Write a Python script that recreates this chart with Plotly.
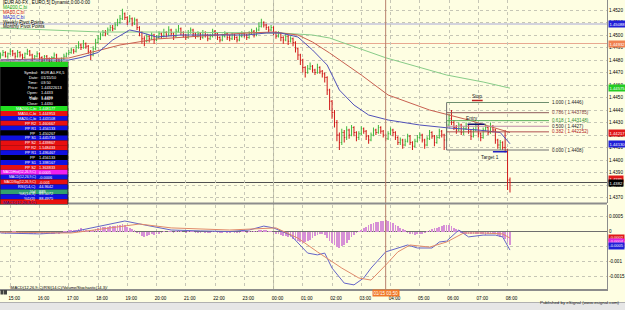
import plotly.graph_objects as go
import pandas as pd

# ---------------- data (prices in pips above 1.4400) ----------------
bar_start = "2010-01-14 14:40"
open_p = [83,84,86,83,85,87,85,83,86,84, 82,85,87,84,81,83,85,82,80,83,
          81,79,82,84,80,78,81,83,85,86, 88,87,90,92,90,93,91,87,84,89,
          94,97,100,102,101,104,106,105,108,110, 113,117,114,111,113,109,112,106,102,97,
          95,99,97,100,96,98,101,99,102,100, 104,101,99,103,105,102,100,98,102,104,
          101,99,101,98,102,100,97,99,103,101, 98,96,99,101,98,97,100,98,96,99,
          101,100,98,101,103,100,104,107,110,108, 106,104,106,102,99,101,98,96,99,95,
          97,94,89,84,80,74,70,73,75,72, 70,74,71,69,66,56,47,38,30,20,
          14,22,18,24,20,26,22,18,21,25, 23,19,16,20,24,22,26,23,20,17,
          21,24,22,18,14,16,12,15,19,14, 11,15,18,20,16,12,17,22,19,14,
          18,23,20,16,28,33,30,26,24,28, 22,25,27,23,19,24,27,21,18,24,
          26,22,27,24,16,12,14,10,8,-16]
close_p = [84,86,83,85,87,85,83,86,84,82, 85,87,84,81,83,85,82,80,83,81,
           79,82,84,80,78,81,83,85,86,88, 87,90,92,90,93,91,87,84,89,94,
           97,100,102,101,104,106,105,108,110,113, 117,114,111,113,109,112,106,102,97,95,
           99,97,100,96,98,101,99,102,100,104, 101,99,103,105,102,100,98,102,104,101,
           99,101,98,102,100,97,99,103,101,98, 96,99,101,98,97,100,98,96,99,101,
           100,98,101,103,100,104,107,110,108,106, 104,106,102,99,101,98,96,99,95,97,
           94,89,84,80,74,70,73,75,72,70, 74,71,69,66,56,47,38,30,20,14,
           22,18,24,20,26,22,18,21,25,23, 19,16,20,24,22,26,23,20,17,21,
           24,22,18,14,16,12,15,19,14,11, 15,18,20,16,12,17,22,19,14,18,
           23,20,16,28,33,30,26,24,28,22, 25,27,23,19,24,27,21,18,24,26,
           22,27,24,16,12,14,10,8,-16,-18]
high_p = [86,88,87,86,89,88,86,88,87,85, 86,89,88,85,84,87,86,83,84,84,
          82,83,86,85,81,82,85,86,88,90, 89,92,95,93,96,94,92,88,91,97,
          100,102,104,104,106,108,108,110,113,116, 121,118,115,116,114,114,113,107,103,99,
          101,100,102,101,100,103,102,105,103,107, 105,102,105,108,106,103,101,104,106,105,
          102,103,102,104,103,101,101,105,104,102, 99,101,103,102,100,102,101,99,101,103,
          102,101,103,105,104,106,110,113,111,109, 107,108,107,103,103,102,99,101,100,99,
          98,95,90,85,81,75,76,78,76,73, 77,75,72,70,67,57,48,40,32,22,
          25,24,27,25,28,27,23,23,27,26, 24,20,22,26,25,28,27,24,21,23,
          26,25,23,19,18,17,17,21,20,15, 17,20,22,21,17,19,24,23,20,20,
          25,24,21,31,37,40,32,28,30,29, 27,30,28,24,26,30,28,22,26,29,
          27,30,28,25,17,16,15,24,9,-14]
low_p = [81,83,82,81,84,83,81,82,82,80, 81,84,83,79,80,82,80,78,79,79,
         76,78,81,78,75,77,80,82,84,85, 85,86,89,88,89,89,85,80,83,88,
         93,96,99,99,100,103,103,104,107,109, 112,112,108,110,107,108,104,99,93,91,
         94,94,96,93,95,97,97,98,98,99, 99,96,98,102,100,98,96,97,101,99,
         97,98,96,97,98,95,96,98,99,96, 94,95,98,96,95,96,96,94,95,98,
         98,96,97,100,98,99,103,106,106,104, 102,103,100,97,98,95,93,95,92,94,
         91,86,80,76,70,66,69,72,70,68, 69,69,66,62,52,40,33,26,15,8,
         12,14,16,17,19,19,15,16,20,21, 16,13,15,19,20,21,21,18,15,16,
         20,19,16,12,12,9,11,14,12,8, 10,14,17,14,9,11,16,17,11,13,
         17,18,8,15,27,28,24,21,23,20, 20,24,21,16,18,23,18,15,17,23,
         20,21,22,13,9,8,8,6,-24,-26]

# moving averages read at sample times (pips)
ma20_t = ["14:40","16:00","17:00","17:25","18:00","18:30","19:05","19:25","20:00","20:50",
          "21:55","23:05","23:45","00:15","00:50","01:20","01:50","02:15","02:45","03:15",
          "03:55","05:00","06:00","07:00","07:45","08:05"]
ma20_v = [80,80,80,82,86,96,104,102.4,98.4,100, 100,100,101.6,101.6,98.4,88,76,56,44,36,
          32,28,25.6,24,22,13]
ma50_t = ["14:40","17:00","18:05","18:45","20:00","21:55","23:05","00:00","00:50","01:20",
          "01:55","03:00","03:55","05:20","06:40","08:05"]
ma50_v = [80,81.6,88,92,96.8,100,101.6,102.4,100,94.4, 85.6,68,52,40,32,22]
ma200_t = ["14:40","18:05","19:45","23:05","00:15","01:20","01:55","03:50","05:55","07:10","08:05"]
ma200_v = [105.6,102.4,102.4,101.6,101.6,100,97.6,81.8,68,62.4,57.5]

# MACD pane (pips)
macd_t = ["14:40","16:00","17:05","18:05","18:55","19:35","20:30","21:30","22:30","23:10",
          "23:40","00:00","00:35","01:10","01:30","01:45","02:00","02:25","02:45","03:05",
          "03:20","03:50","04:35","04:55","05:25","05:40","05:55","06:20","06:40","07:10",
          "07:35","07:50","08:05"]
macd_v = [-0.5,-0.8,-0.2,1.8,3.5,2.2,0.5,0.2,0,0.5, 1.8,1.2,-1.2,-7.2,-7.8,-7.2,-12.2,-17.2,-17.8,-15.5,
          -12.2,-6.8,-4.5,-5.5,-5.5,-3.5,-3.2,0.5,-1.8,-1.2, -1.2,-1.8,-6.2]
sig_t = ["14:40","17:05","18:25","19:25","20:30","22:30","00:05","00:50","01:30","01:55",
         "02:20","02:55","03:20","03:50","04:15","04:40","05:20","05:55","06:30","07:10",
         "07:50","08:05"]
sig_v = [-0.2,-0.5,1.2,2.5,1.2,0.5,1.2,-2.2,-6.8,-9.5, -12.2,-15.5,-16.2,-11.2,-6.8,-4.5,-5.2,-3.5,-0.5,-0.5,
         -0.8,-2.2]
hist_v = [-0.3,-0.2,-0.4,-0.3,-0.1,0.1,0.2,-0.2,-0.4,-0.5, -0.3,-0.2,-0.4,-0.6,-0.5,-0.3,-0.2,-0.4,-0.3,-0.1,
          -0.3,-0.5,-0.4,-0.2,-0.4,-0.3,0.1,0.3,0.4,0.6,
          0.8,0.7,1.0,1.2,1.0,0.6,0.2,0.1,0.5,1.0, 1.4,1.6,1.8,1.6,1.8,
          2.0,1.9,2.1,2.2,2.4,2.6,2.2,1.8,1.4,1.1,
          0.6,-0.2,-0.8,-1.3,-1.5,-1.2,-1.1,-0.8,-0.9,-0.6,
          -0.4,-0.2,0.1,0.0,0.3,0.2,-0.1,0.2,0.4,0.3, 0.0,-0.2,0.1,0.3,0.2,-0.1,-0.2,-0.3,0.0,-0.1,
          -0.3,-0.2,0.1,0.2,-0.1,
          -0.3,-0.2,0.0,-0.1,-0.2,0.0,-0.1,-0.3,-0.1,0.1, 0.1,-0.1,0.1,0.2,0.1,
          0.3,0.5,0.8,0.7,0.5,0.3,0.1,
          -0.2,-0.5,-0.6,-0.9,-1.2,-1.3,-1.6,-1.8,-2.2,-2.6, -3.0,-3.4,-3.6,-3.3,-3.0,-2.6,
          -2.0,-1.4,-0.9,-0.6,-0.4,
          -1.0,-2.0,-3.0,-3.8,-4.4,-5.0,-5.2,-4.8,-4.2,-3.5,-2.6,
          -1.8,-1.0,-0.3,0.3,
          0.8,1.3,1.8,2.2,2.6,2.9,3.2,3.4,3.6,3.7, 3.9,3.6,3.3,2.9,2.4,1.9,1.4,0.9,0.4,
          -0.2,-0.5,-0.8,-0.9,-0.8,-0.6,-0.4,-0.1,
          0.3,0.6,0.9,1.2,1.5,1.8,2.1,2.3,2.5,2.4,2.0,1.5,0.9,0.4,
          -0.2,-0.4,-0.6,-0.5,-0.4,-0.6,-0.8,-0.7,-0.5,-0.6, -0.9,-0.8,-0.6,-0.4,-0.6,-1.0,
          -1.5,-1.8,-2.4,-3.2,-4.2]

# horizontal reference lines and axis value flags
ref_lines = [1.45088, 1.44932]
ref_colors = ["#A8A8D8", "#E8A890"]
flag_vals = [1.45088, 1.44932, 1.44575, 1.44217, 1.44130, 1.43850, 1.43820]
flag_text = ["1.45088", "1.44932", "1.44575", "1.44217", "1.44130", "1.4385", "1.4382"]
flag_bg = ["#2020D8", "#F08050", "#22CC22", "#E01818", "#2020D8", "#E01818", "#000000"]
macd_flag_vals = [-0.00022, -0.00035, -0.00049]
macd_flag_text = ["-0.0002", "-0.0004", "-0.0005"]
macd_flag_bg = ["#E01818", "#E020E0", "#2020D8"]

# fibonacci tool
fib_levels = ["1.000", "0.786", "0.618", "0.500", "0.382", "0.000"]
fib_prices = [1.4446, 1.443785, 1.443148, 1.4427, 1.442252, 1.4408]
fib_colors = ["#6E8E6E", "#8E5A5A", "#5AAE5A", "#C08CA8", "#B05050", "#707070"]
fib_text_colors = ["#222222", "#7A3A3A", "#2E8E2E", "#222222", "#B02020", "#222222"]
fib_start, fib_end = "05:55", "09:25"

trade_names = ["Stop", "Entry", "Target 1"]
trade_line_from = ["06:47", "06:38", "07:30"]
trade_line_to = ["07:09", "07:13", "07:59"]
trade_line_price = [1.44476, 1.44286, 1.44066]
trade_text_time = ["06:57", "06:48", "07:24"]
trade_text_price = [1.44506, 1.44330, 1.44022]
trade_colors = ["#C02020", "#101070", "#2020C0"]

hour_labels = ["15:00","16:00","17:00","18:00","19:00","20:00","21:00","22:00","23:00",
               "00:00","01:00","02:00","03:00","04:00","05:00","06:00","07:00","08:00"]
price_ticks = [1.4370,1.4380,1.4390,1.4400,1.4410,1.4420,1.4430,1.4440,1.4450,1.4460,
               1.4470,1.4480,1.4490,1.4500,1.4510,1.4520]
macd_ticks = [0.0005, 0, -0.0005, -0.001, -0.0015]
macd_tick_text = ["0.0005", "0", "-0.0005", "-0.001", "-0.0015"]

header_lines = ["[EUR A0-FX , EURO,5] Dynamic,0:00-0:00", "MA200,C,bi", "MA50,C,bi", "MA20,C,bi",
                "Weekly Pivot Points", "Monthly Pivot Points"]
header_colors = ["#000000", "#10A010", "#D01010", "#1010D0", "#000000", "#000000"]

cursor_fields = ["Symbol:", "Date:", "Time:", "Price:", "Open:", "High:", "Low:", "Close:"]
cursor_values = ["EUR A0-FX,5", "01/15/10", "03:50", "1.44322613", "1.4433", "1.4436", "1.4427", "1.4430"]
study_names = ["MA200,C,bi", "MA50,C,bi", "MA20,C,bi", "PP R2", "PP R1", "PP", "PP S1", "PP S2",
               "PP R2", "PP R1", "PP", "PP S1", "PP S2", "MACDHist(12,26,9,C)", "MACD(12,26,9,C)",
               "MACDSig(12,26,9,C)", "RSI(14,C)", "Vol", "%K(14,3)", "%D(3)"]
study_values = ["1.448177", "1.444953", "1.443108", "1.460667", "1.456133", "1.450267", "1.445733",
                "1.439867", "1.548433", "1.496467", "1.456133", "1.398167", "1.363833", "0.0005",
                "-0.0006", "-0.001", "44.9642", "889", "89.5072", "88.4975"]
study_bg = ["#22E022", "#E81010", "#1010E0", "#E81010", "#1010E0", "#000000", "#1010E0", "#E81010",
            "#E81010", "#1010E0", "#000000", "#1010E0", "#E81010", "#F020F0", "#1010E0",
            "#E81010", "#1010E0", "#30A070", "#1010E0", "#E81010"]

# ---------------- helpers ----------------
W, H = 625, 310
MR, MB = 18, 21
PW, PH = W - MR, H - MB
BG = "#FEFEE2"
FONT = "Liberation Sans"


def px(x):
    return x / PW


def py(y):
    return 1 - y / PH


def ts(hhmm):
    day = "2010-01-14" if int(hhmm[:2]) >= 12 else "2010-01-15"
    return f"{day} {hhmm}"


def pr(p):
    return round(1.44 + p / 10000.0, 6)


def ts_list(lst):
    return [ts(t) for t in lst]


times = pd.date_range(bar_start, periods=len(close_p), freq="5min")

fig = go.Figure()
fig.add_trace(go.Ohlc(
    x=times, open=[pr(v) for v in open_p], high=[pr(v) for v in high_p],
    low=[pr(v) for v in low_p], close=[pr(v) for v in close_p],
    increasing=dict(line=dict(color="#40B840", width=1)),
    decreasing=dict(line=dict(color="#D01818", width=1)),
    tickwidth=0.35, xaxis="x", yaxis="y", hoverinfo="skip", showlegend=False))
fig.add_trace(go.Scatter(x=ts_list(ma200_t), y=[pr(v) for v in ma200_v], mode="lines",
                         line=dict(color="#88CC88", width=1), xaxis="x", yaxis="y", showlegend=False))
fig.add_trace(go.Scatter(x=ts_list(ma50_t), y=[pr(v) for v in ma50_v], mode="lines",
                         line=dict(color="#C86050", width=1), xaxis="x", yaxis="y", showlegend=False))
fig.add_trace(go.Scatter(x=ts_list(ma20_t), y=[pr(v) for v in ma20_v], mode="lines",
                         line=dict(color="#5050B8", width=1), xaxis="x", yaxis="y", showlegend=False))

fig.add_trace(go.Bar(x=times, y=[v / 10000 for v in hist_v], marker=dict(color="#D690D6", line=dict(width=0)),
                     width=1.5 * 60 * 1000, xaxis="x2", yaxis="y2", showlegend=False))
fig.add_trace(go.Scatter(x=ts_list(macd_t), y=[v / 10000 for v in macd_v], mode="lines",
                         line=dict(color="#6464C8", width=1), xaxis="x2", yaxis="y2", showlegend=False))
fig.add_trace(go.Scatter(x=ts_list(sig_t), y=[v / 10000 for v in sig_v], mode="lines",
                         line=dict(color="#E08A6A", width=1), xaxis="x2", yaxis="y2", showlegend=False))

grid = dict(showgrid=True, gridcolor="#C6C6B6", griddash="dot", gridwidth=1)
xrange_ = ["2010-01-14 14:38:54", "2010-01-15 11:24:00"]
tick_vals = ts_list(hour_labels)
tick_text = [h if h != "00:00" else "00:00<br>01/15/10" for h in hour_labels]

fig.update_layout(
    width=W, height=H, margin=dict(l=0, r=MR, t=0, b=MB),
    paper_bgcolor=BG, plot_bgcolor=BG, hovermode=False, bargap=0,
    font=dict(family=FONT, size=5, color="#000000"),
    xaxis=dict(domain=[0, 1], anchor="y", range=xrange_, tickvals=tick_vals, showticklabels=False,
               zeroline=False, showline=False, rangeslider=dict(visible=False), **grid),
    xaxis2=dict(domain=[0, 1], anchor="y2", range=xrange_, matches="x", tickvals=tick_vals,
                ticktext=tick_text, tickfont=dict(size=4.6, family=FONT), ticks="",
                ticklabelshift=4, ticklabelstandoff=3, showline=True, linecolor="#8C8C8C", linewidth=2,
                zeroline=False, **grid),
    yaxis=dict(domain=[py(203), 1], anchor="x", side="right", range=[1.43656, 1.4528],
               tickvals=price_ticks, ticktext=[f"{v:.4f}" for v in price_ticks],
               tickfont=dict(size=4.6, family=FONT), ticks="", showline=True, linecolor="#8C8C8C",
               linewidth=1, zeroline=False, **grid),
    yaxis2=dict(domain=[0, py(204.5)], anchor="x2", side="right", range=[-0.001917, 0.0009],
                tickvals=macd_ticks, ticktext=macd_tick_text, tickfont=dict(size=4.6, family=FONT),
                ticks="", showline=True, linecolor="#8C8C8C", linewidth=1,
                zeroline=True, zerolinecolor="#6E6E6E", zerolinewidth=1, **grid),
)

shapes = []
ann = []

# horizontal reference lines, current price line
for lv, col in zip(ref_lines, ref_colors):
    shapes.append(dict(type="line", xref="paper", yref="y", x0=0, x1=1, y0=lv, y1=lv,
                       line=dict(color=col, width=1), layer="below"))
shapes.append(dict(type="line", xref="paper", yref="y", x0=0, x1=1, y0=pr(close_p[-1]), y1=pr(close_p[-1]),
                   line=dict(color="#505050", width=1), layer="below"))
# day separator and cursor line
shapes.append(dict(type="line", xref="x", yref="paper", x0=ts("00:00"), x1=ts("00:00"), y0=0, y1=1,
                   line=dict(color="#B4B4A0", width=1), layer="below"))
shapes.append(dict(type="line", xref="x", yref="paper", x0=ts("03:50"), x1=ts("03:50"), y0=0, y1=1,
                   line=dict(color="#B8806C", width=1)))
# pane separator
shapes.append(dict(type="line", xref="paper", yref="paper", x0=0, x1=1, y0=py(203.6), y1=py(203.6),
                   line=dict(color="#8C8C8C", width=2)))

# fibonacci
shapes.append(dict(type="line", xref="x", yref="y", x0=ts(fib_start), x1=ts(fib_start),
                   y0=fib_prices[0], y1=fib_prices[-1], line=dict(color="#707070", width=1)))
for lvl, pv, col, tcol in zip(fib_levels, fib_prices, fib_colors, fib_text_colors):
    shapes.append(dict(type="line", xref="x", yref="y", x0=ts(fib_start), x1=ts(fib_end), y0=pv, y1=pv,
                       line=dict(color=col, width=1)))
    ann.append(dict(xref="x", yref="y", x=ts(fib_end), y=pv, xanchor="left", yanchor="middle",
                    text=f"{lvl} ( {pv:.6f}".rstrip("0") + ")", showarrow=False, xshift=1,
                    font=dict(size=4.6, color=tcol, family=FONT)))

for name, t0, t1, lp, tt, tp, col in zip(trade_names, trade_line_from, trade_line_to, trade_line_price,
                                          trade_text_time, trade_text_price, trade_colors):
    shapes.append(dict(type="line", xref="x", yref="y", x0=ts(t0), x1=ts(t1), y0=lp, y1=lp,
                       line=dict(color=col, width=1.5)))
    ann.append(dict(xref="x", yref="y", x=ts(tt), y=tp, text=name, showarrow=False,
                    font=dict(size=4.8, color="#202020", family=FONT)))

# axis flags
for v, t, bg in zip(flag_vals, flag_text, flag_bg):
    ann.append(dict(xref="paper", yref="y", x=1 + px(1), y=v, xanchor="left", yanchor="middle", text=t,
                    showarrow=False, bgcolor=bg, borderpad=0.5,
                    font=dict(size=4.2, color="#FFFFFF", family=FONT)))
for v, t, bg in zip(macd_flag_vals, macd_flag_text, macd_flag_bg):
    ann.append(dict(xref="paper", yref="y2", x=1 + px(1), y=v, xanchor="left", yanchor="middle", text=t,
                    showarrow=False, bgcolor=bg, borderpad=0.3,
                    font=dict(size=4.0, color="#FFFFFF", family=FONT)))

# header text
for k, (txt, col) in enumerate(zip(header_lines, header_colors)):
    ann.append(dict(xref="paper", yref="paper", x=px(0.5), y=py(2.8 + 4.8 * k), xanchor="left",
                    yanchor="middle", text=txt, showarrow=False,
                    font=dict(size=4.6, color=col, family=FONT)))

# cursor window
BX0, BX1, BTOP, RH = 0, 68, 62, 4.9
RF = 3.9
shapes.append(dict(type="rect", xref="paper", yref="paper", x0=px(BX0), x1=px(BX1), y0=py(BTOP),
                   y1=py(BTOP + RH * (1 + len(cursor_fields) + len(study_names))),
                   fillcolor="#000000", line=dict(color="#404040", width=1)))
shapes.append(dict(type="rect", xref="paper", yref="paper", x0=px(BX0), x1=px(BX1), y0=py(BTOP),
                   y1=py(BTOP + RH), fillcolor="#22D022", line=dict(width=0)))
ann.append(dict(xref="paper", yref="paper", x=px(34), y=py(BTOP + RH / 2), text="OK", showarrow=False,
                font=dict(size=RF, color="#000000", family=FONT)))
for k, (f, v) in enumerate(zip(cursor_fields, cursor_values)):
    yc = BTOP + RH * (k + 1.5)
    ann.append(dict(xref="paper", yref="paper", x=px(39), y=py(yc), xanchor="right", text=f,
                    showarrow=False, borderpad=0, font=dict(size=RF, color="#FFFFFF", family=FONT)))
    ann.append(dict(xref="paper", yref="paper", x=px(39.5), y=py(yc), xanchor="left", text=v,
                    showarrow=False, borderpad=0, font=dict(size=RF, color="#FFFFFF", family=FONT)))
for k, (n, v, bg) in enumerate(zip(study_names, study_values, study_bg)):
    r0 = BTOP + RH * (k + 1 + len(cursor_fields))
    shapes.append(dict(type="rect", xref="paper", yref="paper", x0=px(BX0 + 0.5), x1=px(BX1 - 0.5),
                       y0=py(r0), y1=py(r0 + RH), fillcolor=bg, line=dict(width=0)))
    ann.append(dict(xref="paper", yref="paper", x=px(37), y=py(r0 + RH / 2), xanchor="right", text=n,
                    showarrow=False, borderpad=0, font=dict(size=RF if len(n) < 12 else 3.4, color="#FFFFFF", family=FONT)))
    ann.append(dict(xref="paper", yref="paper", x=px(37.5), y=py(r0 + RH / 2), xanchor="left", text=v,
                    showarrow=False, borderpad=0, font=dict(size=RF, color="#FFFFFF", family=FONT)))
ann.append(dict(xref="paper", yref="paper", x=px(0.5), y=py(207), xanchor="left", text="MACD(12,26,9,C)",
                showarrow=False, font=dict(size=4.2, color="#2020A0", family=FONT)))

# cursor time flag
ann.append(dict(xref="x", yref="paper", x=ts("03:50"), y=py(296.5), text="01/15 03:50", showarrow=False,
                bgcolor="#F07828", borderpad=0.5, font=dict(size=4.6, color="#FFFFFF", family=FONT)))

# tab bar
shapes.append(dict(type="rect", xref="paper", yref="paper", x0=px(0.5), x1=px(3.5), y0=py(290), y1=py(294.5),
                   fillcolor="#404040", line=dict(width=0)))
shapes.append(dict(type="rect", xref="paper", yref="paper", x0=px(4), x1=px(7), y0=py(290), y1=py(294.5),
                   fillcolor="#404040", line=dict(width=0)))
ann.append(dict(xref="paper", yref="paper", x=px(8), y=py(292.3), xanchor="left",
                text="\\MACD(12,26,9,C)/RSI(14,C)/Volume/Stochastic(14,3)/", showarrow=False,
                font=dict(size=4.0, color="#000000", family=FONT)))

# footer
shapes.append(dict(type="rect", xref="paper", yref="paper", x0=0, x1=W / PW, y0=py(302.5), y1=py(311),
                   fillcolor="#E6E6E6", line=dict(width=0)))
shapes.append(dict(type="line", xref="paper", yref="paper", x0=0, x1=W / PW, y0=py(302.5), y1=py(302.5),
                   line=dict(color="#B0B0B0", width=1)))
ann.append(dict(xref="paper", yref="paper", x=px(622), y=py(306.5), xanchor="right",
                text="Published by eSignal (www.esignal.com)", showarrow=False,
                font=dict(size=4.4, color="#202020", family=FONT)))

fig.update_layout(shapes=shapes, annotations=ann)
fig.write_html("out.html")
